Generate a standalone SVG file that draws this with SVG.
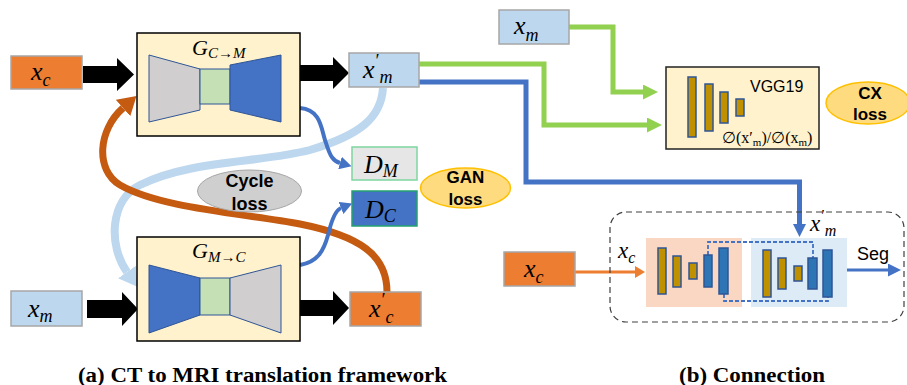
<svg xmlns="http://www.w3.org/2000/svg" width="907" height="385" viewBox="0 0 907 385">
<style>
.m{font-family:"Liberation Serif",serif;font-style:italic;font-size:26px;fill:#000}
.s{font-size:18px}
.gl{font-family:"Liberation Serif",serif;font-style:italic;font-size:22px}
.gs{font-size:15px}
.lb{fill:#BDD7EE;stroke:#A6A6A6;stroke-width:1.5}
.ob{fill:#ED7D31;stroke:#A6A6A6;stroke-width:1.5}
.gen{fill:#FFF2CC;stroke:#000;stroke-width:1.5}
.tg{fill:#D0CECE;stroke:#2F5597;stroke-width:1}
.tb{fill:#4472C4;stroke:#2F5597;stroke-width:1}
.tm{fill:#C5E0B4;stroke:#2F5597;stroke-width:1}
.blk{fill:#000}
.el{font-family:"Liberation Sans",Arial,sans-serif;font-weight:bold;font-size:17px;text-anchor:middle;fill:#000}
.gold{fill:#BF9000;stroke:#2F5597;stroke-width:1.5}
.bbar{fill:#2E75B6;stroke:#2F5597;stroke-width:1.5}
.cap{font-family:"Liberation Serif",serif;font-weight:bold;font-size:20px;fill:#000}
</style>
<defs>
<marker id="ag" markerUnits="userSpaceOnUse" markerWidth="16" markerHeight="15" refX="0" refY="7.5" orient="auto"><path d="M0,0 L15,7.5 L0,15 z" fill="#92D050"/></marker>
<marker id="ab" markerUnits="userSpaceOnUse" markerWidth="14" markerHeight="13" refX="0" refY="6.5" orient="auto"><path d="M0,0 L13,6.5 L0,13 z" fill="#4472C4"/></marker>
<marker id="abs" markerUnits="userSpaceOnUse" markerWidth="13" markerHeight="13" refX="0" refY="6.5" orient="auto"><path d="M0,0 L12,6.5 L0,13 z" fill="#4472C4"/></marker>
<marker id="ao" markerUnits="userSpaceOnUse" markerWidth="11" markerHeight="12" refX="0" refY="6" orient="auto"><path d="M0,0 L10,6 L0,12 z" fill="#ED7D31"/></marker>
<marker id="alb" markerUnits="userSpaceOnUse" markerWidth="19" markerHeight="22" refX="0" refY="11" orient="auto"><path d="M0,0 L18,11 L0,22 z" fill="#BDD7EE"/></marker>
<marker id="aor" markerUnits="userSpaceOnUse" markerWidth="19" markerHeight="22" refX="0" refY="11" orient="auto"><path d="M0,0 L18,11 L0,22 z" fill="#C55A11"/></marker>
</defs>

<g id="connectors" fill="none">
  <path d="M383,88 C381,118 360,135 310,150 C260,163 190,160 140,185 C110,200 108,245 127,272" stroke="#BDD7EE" stroke-width="8" marker-end="url(#alb)"/>
  <path d="M387,292 C387,255 360,236 300,224 C240,213 160,208 120,185 C95,170 98,130 123,108" stroke="#C55A11" stroke-width="7" marker-end="url(#aor)"/>
  <path d="M300,108 C322,110 321,130 326,143 C330,156 333,161 340,163" stroke="#4472C4" stroke-width="4" marker-end="url(#abs)"/>
  <path d="M300,265 C318,262 324,250 328,235 C332,218 336,210 341,208" stroke="#4472C4" stroke-width="4" marker-end="url(#abs)"/>
  <path d="M569,27 H613 V92 H643" stroke="#92D050" stroke-width="5" marker-end="url(#ag)"/>
  <path d="M419,64 H544 V125 H647" stroke="#92D050" stroke-width="5" marker-end="url(#ag)"/>
  <path d="M419,82 H526 V182 H799.5 V224" stroke="#4472C4" stroke-width="5" marker-end="url(#ab)"/>
  <path d="M575,272 H635" stroke="#ED7D31" stroke-width="3" marker-end="url(#ao)"/>
  <path d="M846,270 H888" stroke="#4472C4" stroke-width="3" marker-end="url(#ab)"/>
  <polygon class="blk" points="83,66 117,66 117,58 134,74.5 117,91 117,83 83,83"/>
  <polygon class="blk" points="300,65 333,65 333,57 349,73 333,89 333,81 300,81"/>
  <polygon class="blk" points="87,300 122,300 122,292 138,309 122,326 122,318 87,318"/>
  <polygon class="blk" points="300,300 333,300 333,291 349,308 333,325 333,316 300,316"/>
</g>

<g id="xc">
  <rect class="ob" x="11" y="56" width="71" height="33"/>
  <text class="m" x="31" y="80">x<tspan class="s" dy="6">c</tspan></text>
</g>
<g id="gcm">
  <rect class="gen" x="137" y="33" width="163" height="103"/>
  <polygon class="tg" points="149,55 200,69 200,110 149,122"/>
  <rect class="tm" x="200" y="69" width="30" height="35"/>
  <polygon class="tb" points="230,65 281,55 281,122 230,110"/>
  <text class="gl" x="192" y="55">G<tspan class="gs" dy="3">C→M</tspan></text>
</g>
<g id="xm_prime">
  <rect class="lb" x="349" y="53" width="70" height="34"/>
  <text class="m" x="363" y="78">x<tspan class="s" dy="-11">′</tspan><tspan class="s" dx="1" dy="16">m</tspan></text>
</g>
<g id="dm">
  <rect x="352" y="147" width="65" height="33" fill="#E7E6E6" stroke="#7ED6A0" stroke-width="1.5"/>
  <text class="m" x="364" y="173">D<tspan class="s" dy="4">M</tspan></text>
</g>
<g id="dc">
  <rect x="352" y="191" width="65" height="35" fill="#4472C4" stroke="#25A36F" stroke-width="1.5"/>
  <text class="m" x="365" y="218">D<tspan class="s" dy="4">C</tspan></text>
</g>
<g id="gan_loss">
  <ellipse cx="465.5" cy="188" rx="45" ry="20" fill="#FFDB7F" stroke="#FFC000" stroke-width="1.5"/>
  <text class="el" x="465.5" y="183">GAN</text>
  <text class="el" x="465.5" y="205">loss</text>
</g>
<g id="cycle_loss">
  <ellipse cx="249.5" cy="191" rx="52" ry="21" fill="#CFCFCF" stroke="#A6A6A6" stroke-width="1"/>
  <text class="el" x="249.5" y="187" style="font-size:18px">Cycle</text>
  <text class="el" x="249.5" y="210" style="font-size:18px">loss</text>
</g>
<g id="xm">
  <rect class="lb" x="11" y="291" width="71" height="35"/>
  <text class="m" x="28" y="317">x<tspan class="s" dy="5">m</tspan></text>
</g>
<g id="gmc">
  <rect class="gen" x="137" y="237" width="163" height="104"/>
  <polygon class="tb" points="149,265 200,278 200,315 149,333"/>
  <rect class="tm" x="200" y="278" width="30" height="37"/>
  <polygon class="tg" points="230,278 281,265 281,333 230,315"/>
  <text class="gl" x="192" y="258">G<tspan class="gs" dy="4">M→C</tspan></text>
</g>
<g id="xc_prime">
  <rect class="ob" x="350" y="292" width="71" height="34"/>
  <text class="m" x="369" y="317">x<tspan class="s" dy="-11">′</tspan><tspan class="s" dx="1" dy="17">c</tspan></text>
</g>

<g id="xm_top">
  <rect class="lb" x="499" y="10" width="70" height="34"/>
  <text class="m" x="514" y="34">x<tspan class="s" dy="7">m</tspan></text>
</g>
<g id="vgg">
  <rect x="666" y="67" width="153" height="82" fill="#FFF2CC" stroke="#222" stroke-width="1.5"/>
  <rect class="gold" x="688" y="77" width="8" height="60"/>
  <rect class="gold" x="705" y="84" width="8" height="47"/>
  <rect class="gold" x="720" y="92" width="8" height="31"/>
  <rect class="gold" x="736" y="99" width="8" height="17"/>
  <text x="750" y="92" font-family="Liberation Sans,Arial,sans-serif" font-size="16">VGG19</text>
  <text x="722" y="143" font-family="Liberation Serif,DejaVu Serif,serif" font-size="16">∅(x′<tspan font-size="11" dy="3">m</tspan><tspan dy="-3">)/∅(x</tspan><tspan font-size="11" dy="3">m</tspan><tspan dy="-3">)</tspan></text>
</g>
<g id="cx_loss">
  <ellipse cx="868" cy="103" rx="42" ry="21" fill="#FFDB7F" stroke="#FFC000" stroke-width="1.5"/>
  <text class="el" x="870" y="99">CX</text>
  <text class="el" x="870" y="120">loss</text>
</g>

<g id="xc_b">
  <rect class="ob" x="504" y="252" width="71" height="34"/>
  <text class="m" x="524" y="277">x<tspan class="s" dy="6">c</tspan></text>
</g>
<g id="connection">
  <rect x="610" y="212" width="294" height="110" rx="16" fill="none" stroke="#404040" stroke-width="1.2" stroke-dasharray="6,4"/>
  <rect x="646" y="238" width="96" height="69" fill="#F9D7C3"/>
  <rect x="751" y="238" width="96" height="69" fill="#DDEBF7"/>
  <path d="M708,255 V242 H813 V258 M724,294 V301 H828 V297" fill="none" stroke="#4472C4" stroke-width="1.8" stroke-dasharray="4,2"/>
  <rect class="gold" x="658" y="248" width="8" height="46"/>
  <rect class="gold" x="673" y="256" width="8" height="31"/>
  <rect class="gold" x="689" y="263" width="8" height="16"/>
  <rect class="bbar" x="704" y="255" width="8" height="32"/>
  <rect class="bbar" x="719" y="248" width="9" height="46"/>
  <rect class="gold" x="763" y="250" width="8" height="47"/>
  <rect class="gold" x="778" y="258" width="8" height="31"/>
  <rect class="gold" x="794" y="266" width="8" height="15"/>
  <rect class="bbar" x="808" y="258" width="9" height="31"/>
  <rect class="bbar" x="823" y="250" width="9" height="47"/>
  <text class="m" x="618" y="258" style="font-size:23px">x<tspan class="s" dy="5" style="font-size:16px">c</tspan></text>
  <text class="m" x="810" y="231" style="font-size:23px">x<tspan class="s" dy="-10" style="font-size:16px">′</tspan><tspan class="s" dx="1" dy="15" style="font-size:16px">m</tspan></text>
  <text x="857" y="260" font-family="Liberation Sans,Arial,sans-serif" font-size="18">Seg</text>
</g>

<text class="cap" x="78" y="382" textLength="369" lengthAdjust="spacingAndGlyphs">(a) CT to MRI translation framework</text>
<text class="cap" x="679" y="382" textLength="146" lengthAdjust="spacingAndGlyphs">(b) Connection</text>
</svg>
